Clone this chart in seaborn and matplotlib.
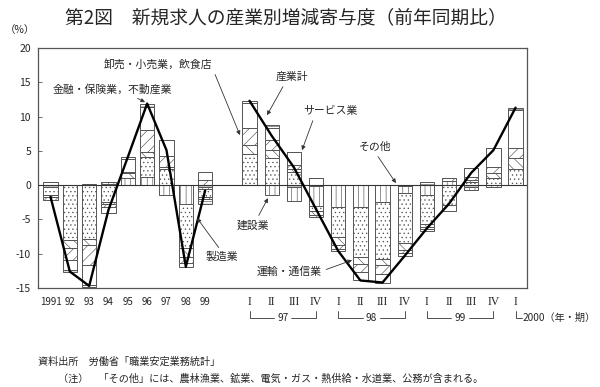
import numpy as np
import pandas as pd
import matplotlib
matplotlib.use("Agg")
import matplotlib.pyplot as plt
import matplotlib.transforms as mtransforms
import seaborn as sns

# ---------------- data ----------------
annual_labels = ["1991", "92", "93", "94", "95", "96", "97", "98", "99"]
quarter_labels = ["I", "II", "III", "IV", "I", "II", "III", "IV", "I", "II", "III", "IV", "I"]
year_groups = ["97", "98", "99"]

# contributions (percentage points); 9 annual values followed by 13 quarterly values
sonota   = [-0.2, 0.0, 0.0, 0.2, 0.0, 0.0, 0.0, 0.0, -0.2,
            0.0, 0.0, -0.2, -0.1, 0.0, 0.0, 0.0, -0.1, 0.0, 0.0, -0.2, 0.0, 0.0]
kensetsu = [0.0, 0.0, 0.2, 0.3, 1.0, 1.2, -1.5, -2.7, -0.3,
            0.0, -1.5, -2.1, -2.9, -3.2, -3.2, -2.4, -1.1, -1.5, 0.6, -0.5, -0.3, 0.0]
seizo    = [-1.2, -8.0, -7.8, -2.4, 0.0, 2.9, 2.3, -6.5, -1.2,
            4.6, 3.9, 1.9, -0.8, -4.3, -7.3, -8.3, -7.3, -4.1, -2.9, 0.4, 1.0, 2.4]
unyu     = [-0.3, -1.2, -1.0, -0.3, 0.8, 0.8, 0.4, -1.3, -0.3,
            1.2, 1.2, 0.5, -0.5, -1.3, -1.0, -1.0, -1.0, -0.5, 0.0, 0.3, 0.7, 1.5]
oroshi   = [-0.5, -1.7, -2.9, -0.5, 0.1, 3.1, 1.5, -0.8, 0.7,
            2.5, 1.5, 0.5, -0.3, -0.5, -1.2, -1.2, -0.4, -0.3, 0.4, 0.5, 1.0, 1.5]
service  = [0.5, -1.5, -2.8, -0.9, 1.9, 3.4, 2.4, -0.6, 1.2,
            3.7, 1.8, 2.0, 1.1, -0.3, -1.2, -1.3, -0.4, -0.3, -0.8, 1.3, 2.7, 5.6]
kinyu    = [0.0, -0.2, -0.4, 0.0, 0.3, 0.5, 0.0, 0.0, -0.7,
            0.3, 0.3, 0.0, 0.0, 0.0, 0.0, 0.0, 0.0, 0.4, 0.0, 0.0, 0.0, 0.3]
# 産業計 (total, line)
total    = [-1.7, -12.6, -14.7, -3.6, 4.1, 11.9, 5.1, -11.9, -0.8,
            12.3, 7.2, 2.6, -3.5, -9.6, -13.9, -14.2, -10.3, -6.3, -2.7, 1.8, 5.1, 11.3]

series_names = ["その他", "建設業", "製造業", "運輸・通信業", "卸売・小売業，飲食店", "サービス業", "金融・保険業，不動産業"]
series_vals = [sonota, kensetsu, seizo, unyu, oroshi, service, kinyu]
styles = {
    "その他": dict(facecolor="#c4c4c4", hatch=None),
    "建設業": dict(facecolor="white", hatch="|||"),
    "製造業": dict(facecolor="white", hatch="...."),
    "運輸・通信業": dict(facecolor="white", hatch="\\\\\\"),
    "卸売・小売業，飲食店": dict(facecolor="white", hatch="///"),
    "サービス業": dict(facecolor="white", hatch=None),
    "金融・保険業，不動産業": dict(facecolor="white", hatch="------"),
}

# ---------------- layout ----------------
sns.set_theme(style="white")
plt.rcParams["font.family"] = ["Noto Sans CJK JP", "DejaVu Sans"]
plt.rcParams["axes.unicode_minus"] = False
plt.rcParams["hatch.linewidth"] = 0.45

n_a = len(annual_labels)
n_q = len(quarter_labels)
pos_a = np.arange(n_a) * 1.0
pos_q = 10.295 + np.arange(n_q) * 1.147
pos = np.concatenate([pos_a, pos_q])

fig = plt.figure(figsize=(6.0, 3.87), dpi=100)
ax = fig.add_axes([38 / 600, 1 - 288 / 387, (527 - 38) / 600, 240 / 387])

df = pd.DataFrame({name: vals for name, vals in zip(series_names, series_vals)})
pos_bottom = np.zeros(len(pos))
neg_bottom = np.zeros(len(pos))
for name in series_names:
    v = df[name].to_numpy()
    bottom = np.where(v >= 0, pos_bottom, neg_bottom)
    st = styles[name]
    ax.bar(pos, v, width=0.74, bottom=bottom, facecolor=st["facecolor"],
           hatch=st["hatch"], edgecolor="#555555", linewidth=0.7, zorder=2)
    pos_bottom = pos_bottom + np.where(v >= 0, v, 0)
    neg_bottom = neg_bottom + np.where(v < 0, v, 0)

ax.axhline(0, color="#333333", lw=0.8, zorder=3)

line_df = pd.DataFrame({"x": pos, "total": total,
                        "grp": ["annual"] * n_a + ["quarter"] * n_q})
for g, sub in line_df.groupby("grp"):
    sns.lineplot(data=sub, x="x", y="total", color="black", lw=1.7, ax=ax,
                 sort=False, zorder=5, legend=False)

ax.set_xlim(-0.647, 24.65)
ax.set_ylim(-15, 20)
ax.set_yticks(np.arange(-15, 21, 5))
ax.set_yticklabels([str(t) for t in np.arange(-15, 21, 5)])
ax.set_xticks([])
ax.set_xlabel("")
ax.set_ylabel("")
ax.tick_params(axis="y", direction="in", length=3, width=0.6, color="#555555",
               labelsize=7.5, pad=5, left=True)
for s in ax.spines.values():
    s.set_color("#555555")
    s.set_linewidth(0.9)

trans = mtransforms.blended_transform_factory(ax.transData, ax.transAxes)
for p, lab in zip(pos_a, annual_labels):
    ax.text(p, -0.058, lab, transform=trans, ha="center", va="center", fontsize=7)
for p, lab in zip(pos_q, quarter_labels):
    ax.text(p, -0.058, lab, transform=trans, ha="center", va="center", fontsize=8.5,
            family="Liberation Serif")

# year brackets
y_top, y_bot = -0.095, -0.125
for k, yr in enumerate(year_groups):
    x0 = pos_q[4 * k]
    x1 = pos_q[4 * k + 3]
    xm = (x0 + x1) / 2
    ax.plot([x0, x0, xm - 0.45], [y_top, y_bot, y_bot], transform=trans, color="#333333",
            lw=0.6, clip_on=False)
    ax.plot([xm + 0.45, x1, x1], [y_bot, y_bot, y_top], transform=trans, color="#333333",
            lw=0.6, clip_on=False)
    ax.text(xm, y_bot, yr, transform=trans, ha="center", va="center", fontsize=7.3)
x_last = pos_q[-1]
ax.plot([x_last, x_last, x_last + 0.35], [y_top, y_bot, y_bot], transform=trans,
        color="#333333", lw=0.6, clip_on=False)
ax.text(x_last + 0.38, y_bot, "2000（年・期）", transform=trans, ha="left", va="center",
        fontsize=7.3)

# annotations
arrow = dict(arrowstyle="-|>", color="#333333", lw=0.6, mutation_scale=6, shrinkA=1, shrinkB=0)
ann = [
    ("卸売・小売業，飲食店", (5.56, 17.6), (9.8, 7.3), (1.0, 0.2)),
    ("金融・保険業，不動産業", (3.19, 14.0), (4.89, 12.1), (0.65, 0.0)),
    ("産業計", (12.49, 15.75), (11.2, 10.2), (0.3, 0.0)),
    ("サービス業", (14.5, 10.8), (13.01, 5.1), (0.2, 0.0)),
    ("その他", (16.79, 5.54), (17.87, 0.3), (0.5, 0.0)),
    ("建設業", (10.48, -5.83), (11.25, -1.9), (0.6, 1.0)),
    ("製造業", (8.87, -10.5), (7.58, -4.8), (0.5, 1.0)),
    ("運輸・通信業", (12.34, -12.54), (15.6, -10.94), (1.0, 0.5)),
]
for txt, xyt, xy, rp in ann:
    a = dict(arrow)
    a["relpos"] = rp
    ax.annotate(txt, xy=xy, xytext=xyt, ha="center", va="center", fontsize=7.8,
                arrowprops=a, zorder=6)

fig.text(286 / 600, 1 - 18 / 387, "第2図　新規求人の産業別増減寄与度（前年同期比）",
         ha="center", va="center", fontsize=13.5)
fig.text(5 / 600, 1 - 30 / 387, "（%）", ha="left", va="center", fontsize=7.5)
fig.text(38 / 600, 1 - 362 / 387, "資料出所　労働省「職業安定業務統計」",
         ha="left", va="center", fontsize=7.3)
fig.text(58 / 600, 1 - 379 / 387,
         "（注）　「その他」には、農林漁業、鉱業、電気・ガス・熱供給・水道業、公務が含まれる。",
         ha="left", va="center", fontsize=7.3)

fig.savefig("out.png", dpi=100)
